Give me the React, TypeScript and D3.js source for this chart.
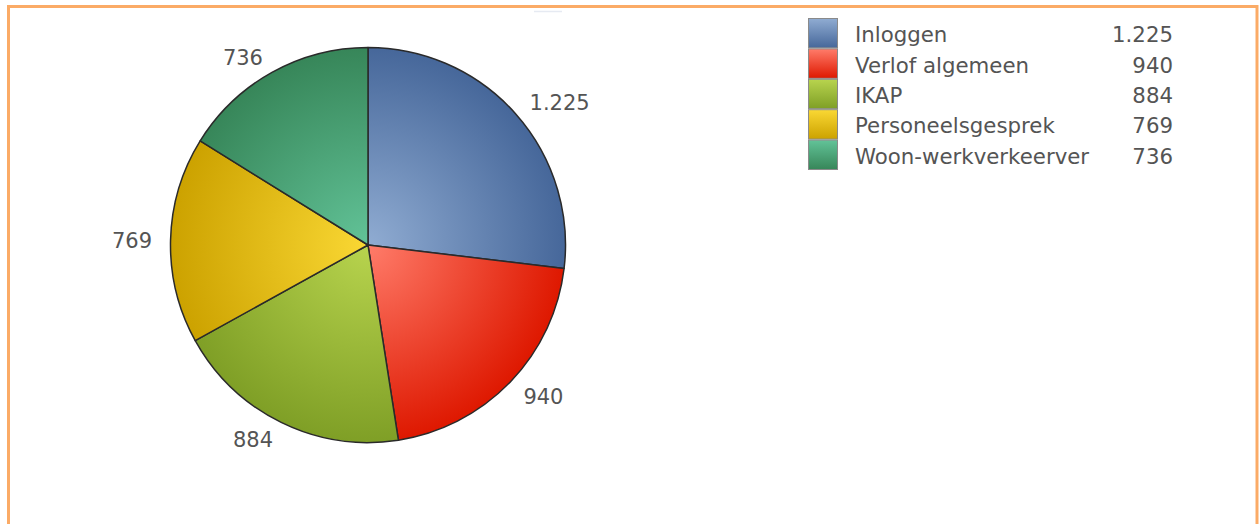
import React from "react";
import * as d3 from "d3";

const categories = ["Inloggen", "Verlof algemeen", "IKAP", "Personeelsgesprek", "Woon-werkverkeerver"];
const values = [1225, 940, 884, 769, 736];
const valueLabels = ["1.225", "940", "884", "769", "736"];
const lightColors = ["#90acd2", "#ff7c6a", "#b8d44e", "#fad834", "#62c398"];
const darkColors = ["#46679a", "#de1800", "#7f9f26", "#cca200", "#378659"];

const W = 1260;
const H = 524;
const cx = 368;
const cy = 245;
const R = 197.5;
const labelR = 216;
const FONT = "'DejaVu Sans', Verdana, sans-serif";
const TEXT_COLOR = "#545454";

export default function App() {
  const pie = d3
    .pie<number>()
    .sort(null)
    .value((d) => d)
    .startAngle(0)
    .endAngle(2 * Math.PI);
  const arcs = pie(values);
  const arcGen = d3.arc<d3.PieArcDatum<number>>().innerRadius(0).outerRadius(R);

  const legendX = 808;
  const legendY = 18;
  const rowH = 30.4;
  const swatchW = 30;
  const textX = 855;
  const valX = 1173;

  return (
    <svg
      width={W}
      height={H}
      style={{ position: "absolute", left: 0, top: 0, background: "#fff" }}
    >
      <defs>
        {categories.map((c, i) => (
          <radialGradient
            key={"rg" + i}
            id={"rg" + i}
            gradientUnits="userSpaceOnUse"
            cx={0}
            cy={0}
            r={R}
          >
            <stop offset="0%" stopColor={lightColors[i]} />
            <stop offset="100%" stopColor={darkColors[i]} />
          </radialGradient>
        ))}
        {categories.map((c, i) => (
          <linearGradient key={"lg" + i} id={"lg" + i} x1="0" y1="0" x2="0" y2="1">
            <stop offset="0%" stopColor={lightColors[i]} />
            <stop offset="100%" stopColor={darkColors[i]} />
          </linearGradient>
        ))}
      </defs>

      {/* frame */}
      <rect
        x={8.5}
        y={6.5}
        width={1248.5}
        height={H + 20}
        fill="none"
        stroke="#fbab66"
        strokeWidth={3}
      />
      <line x1={534} x2={562} y1={11.5} y2={11.5} stroke="#e6eaf2" strokeWidth={1.5} />

      {/* pie */}
      <g transform={`translate(${cx},${cy})`}>
        {arcs.map((a, i) => (
          <path
            key={"p" + i}
            d={arcGen(a) || ""}
            fill={`url(#rg${i})`}
            stroke="#2a2a2a"
            strokeWidth={1.5}
            strokeLinejoin="round"
          />
        ))}
      </g>

      {/* slice labels */}
      {arcs.map((a, i) => {
        const mid = (a.startAngle + a.endAngle) / 2;
        const x = cx + labelR * Math.sin(mid);
        const y = cy - labelR * Math.cos(mid);
        const anchor = Math.sin(mid) >= 0 ? "start" : "end";
        return (
          <text
            key={"t" + i}
            x={x}
            y={y}
            dy={1.5}
            textAnchor={anchor}
            dominantBaseline="central"
            fontFamily={FONT}
            fontSize={21}
            fill={TEXT_COLOR}
          >
            {valueLabels[i]}
          </text>
        );
      })}

      {/* legend */}
      {categories.map((c, i) => {
        const y0 = legendY + i * rowH;
        return (
          <g key={"l" + i}>
            <rect
              x={legendX + 0.5}
              y={y0 + 0.5}
              width={swatchW - 1}
              height={rowH - 1}
              fill={`url(#lg${i})`}
              stroke="#8a8a8a"
              strokeWidth={1}
            />
            <text
              x={textX}
              y={y0 + rowH / 2 + 1.5}
              dominantBaseline="central"
              fontFamily={FONT}
              fontSize={21.3}
              fill={TEXT_COLOR}
            >
              {c}
            </text>
            <text
              x={valX}
              y={y0 + rowH / 2 + 1.5}
              dominantBaseline="central"
              textAnchor="end"
              fontFamily={FONT}
              fontSize={21.3}
              fill={TEXT_COLOR}
            >
              {valueLabels[i]}
            </text>
          </g>
        );
      })}
    </svg>
  );
}
